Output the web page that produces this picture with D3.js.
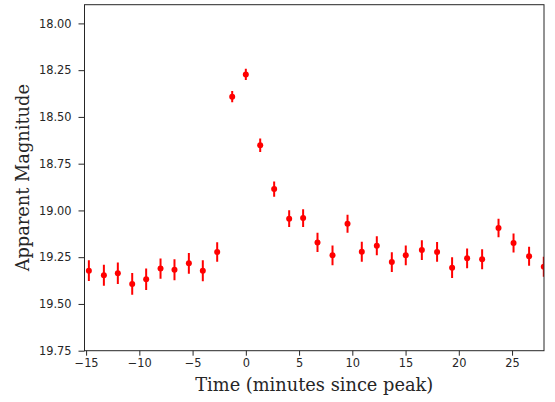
<!DOCTYPE html>
<html>
<head>
<meta charset="utf-8">
<script src="https://cdn.jsdelivr.net/npm/d3@7"></script>
<style>
  body { margin: 0; background: #fff; }
  .tick text { font-family: "DejaVu Sans", sans-serif; font-size: 11.4px; fill: #262626; }
  .tick line { stroke: #262626; }
  .axis-label { font-family: "DejaVu Serif", serif; font-size: 17.8px; fill: #262626; }
</style>
</head>
<body>
<script>
// observation times (minutes since peak)
const times = [-14.74, -13.33, -12.02, -10.67, -9.36, -8.01, -6.70, -5.35, -4.04, -2.69,
    -1.28, 0.0, 1.35, 2.66, 4.07, 5.38, 6.73, 8.14, 9.55, 10.89,
    12.30, 13.71, 15.02, 16.53, 17.96, 19.37, 20.78, 22.19, 23.73, 25.14,
    26.60, 27.98]
// apparent magnitudes
const mags = [19.322, 19.347, 19.336, 19.393, 19.368, 19.311, 19.317, 19.283, 19.322, 19.222,
    18.392, 18.273, 18.652, 18.886, 19.044, 19.041, 19.171, 19.240, 19.071, 19.221,
    19.189, 19.276, 19.240, 19.212, 19.222, 19.306, 19.256, 19.261, 19.094, 19.174,
    19.245, 19.301]
// 1-sigma errors
const errs = [0.055, 0.056, 0.057, 0.058, 0.058, 0.054, 0.056, 0.056, 0.056, 0.052,
    0.030, 0.030, 0.036, 0.041, 0.045, 0.047, 0.051, 0.053, 0.048, 0.053,
    0.051, 0.053, 0.053, 0.053, 0.053, 0.055, 0.053, 0.054, 0.049, 0.051,
    0.051, 0.053]
const xTicks = [-15, -10, -5, 0, 5, 10, 15, 20, 25]
const yTicks = [18.0, 18.25, 18.5, 18.75, 19.0, 19.25, 19.5, 19.75]

const margin = {top: 4.7, right: 11, bottom: 51.3, left: 84.5}
, width = 555 - margin.left - margin.right
, height = 402 - margin.top - margin.bottom

const data = times.map((t, i) => ({t: t, m: mags[i], e: errs[i]}))

const svg = d3.select('body').append('svg')
    .attr('width', width + margin.left + margin.right)
    .attr('height', height + margin.top + margin.bottom)

const xScale = d3.scaleLinear()
    .domain([-15.15, 28])
    .range([margin.left, margin.left + width])

// magnitudes: brighter is up
const yScale = d3.scaleLinear()
    .domain([17.9, 19.75])
    .range([margin.top, margin.top + height])

const fmtX = d => d3.format('d')(d).replace('-', '\u2212')

svg.append('g')
    .attr('transform', 'translate(0,' + (margin.top + height) + ')')
    .call(d3.axisBottom(xScale).tickValues(xTicks).tickFormat(fmtX).tickSize(5).tickPadding(3))
    .call(g => g.select('.domain').remove())

svg.append('g')
    .attr('transform', 'translate(' + margin.left + ',0)')
    .call(d3.axisLeft(yScale).tickValues(yTicks).tickFormat(d3.format('.2f')).tickSize(6).tickPadding(7))
    .call(g => g.select('.domain').remove())

svg.append('clipPath').attr('id', 'clip')
    .append('rect')
    .attr('x', margin.left).attr('y', margin.top)
    .attr('width', width).attr('height', height)

const pts = svg.append('g').attr('clip-path', 'url(#clip)')

// error bars
pts.selectAll('.err').data(data)
    .enter()
    .append('line')
        .attr('x1', d => xScale(d.t))
        .attr('x2', d => xScale(d.t))
        .attr('y1', d => yScale(d.m - d.e))
        .attr('y2', d => yScale(d.m + d.e))
        .attr('stroke', 'red')
        .attr('stroke-width', 2)

pts.selectAll('.dot').data(data)
    .enter()
    .append('circle')
        .attr('cx', d => xScale(d.t))
        .attr('cy', d => yScale(d.m))
        .attr('r', 3)
        .attr('fill', 'red')

// frame
svg.append('rect')
    .attr('x', margin.left).attr('y', margin.top)
    .attr('width', width).attr('height', height)
    .attr('fill', 'none')
    .attr('stroke', '#262626')
    .attr('stroke-width', 1)

svg.append('text')
    .attr('class', 'axis-label')
    .attr('x', margin.left + width / 2)
    .attr('y', 391)
    .attr('text-anchor', 'middle')
    .text('Time (minutes since peak)')

svg.append('text')
    .attr('class', 'axis-label')
    .attr('transform', 'translate(29,' + (margin.top + height / 2) + ') rotate(-90)')
    .attr('text-anchor', 'middle')
    .text('Apparent Magnitude')
</script>
</body>
</html>
